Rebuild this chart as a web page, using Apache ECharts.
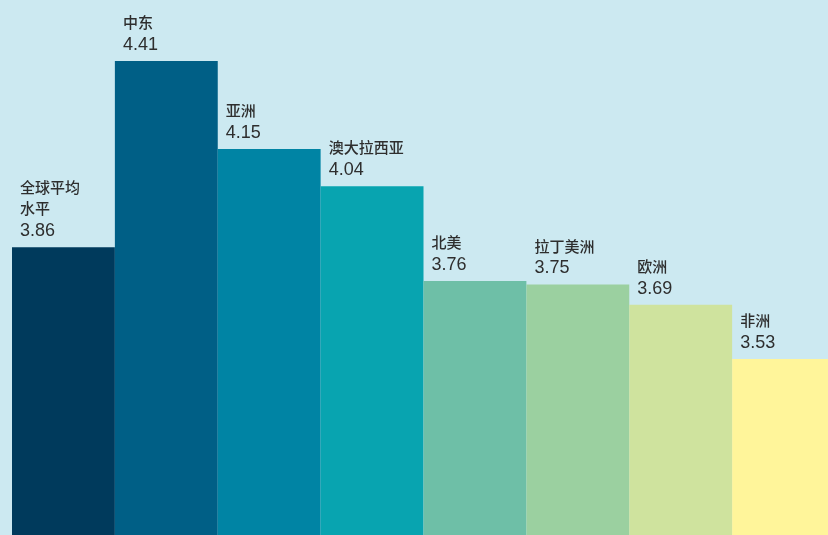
<!DOCTYPE html>
<html>
<head>
<meta charset="utf-8">
<style>
html,body{margin:0;padding:0;background:#cce9f1;overflow:hidden;width:828px;height:535px;}
#c{width:835px;height:535px;}
</style>
<script src="https://cdn.jsdelivr.net/npm/echarts@6/dist/echarts.min.js"></script>
</head>
<body>
<div id="c"></div>
<script>
const categories = ['全球平均\n水平', '中东', '亚洲', '澳大拉西亚', '北美', '拉丁美洲', '欧洲', '非洲'];
const values = [3.86, 4.41, 4.15, 4.04, 3.76, 3.75, 3.69, 3.53];
const colors = ['#003a5c', '#005f86', '#0084a4', '#08a4b0', '#6ebfa7', '#9bd0a0', '#cfe39e', '#fff59a'];

const chart = echarts.init(document.getElementById('c'), null, {renderer: 'canvas'});
chart.setOption({
  backgroundColor: '#cce9f1',
  animation: false,
  grid: {left: 12, right: 0, top: 0, bottom: 0},
  xAxis: {
    type: 'category',
    data: categories,
    show: false
  },
  yAxis: {
    type: 'value',
    min: 3.01,
    max: 4.59,
    show: false
  },
  series: [{
    type: 'bar',
    barCategoryGap: 0,
    data: values.map((v, i) => ({value: v, itemStyle: {color: colors[i]}})),
    label: {
      show: true,
      position: [8, -4],
      align: 'left',
      verticalAlign: 'bottom',
      formatter: p => '{n|' + categories[p.dataIndex].split('\n').join('}\n{n|') + '}\n{v|' + p.value.toFixed(2) + '}',
      rich: {
        n: {fontFamily: '"Noto Sans CJK SC", sans-serif', fontSize: 15, fontWeight: 500, lineHeight: 21, color: '#2e2e2e'},
        v: {fontFamily: '"Liberation Sans", Arial, sans-serif', fontSize: 18, lineHeight: 24, color: '#2e2e2e'}
      }
    }
  }]
});
</script>
</body>
</html>
